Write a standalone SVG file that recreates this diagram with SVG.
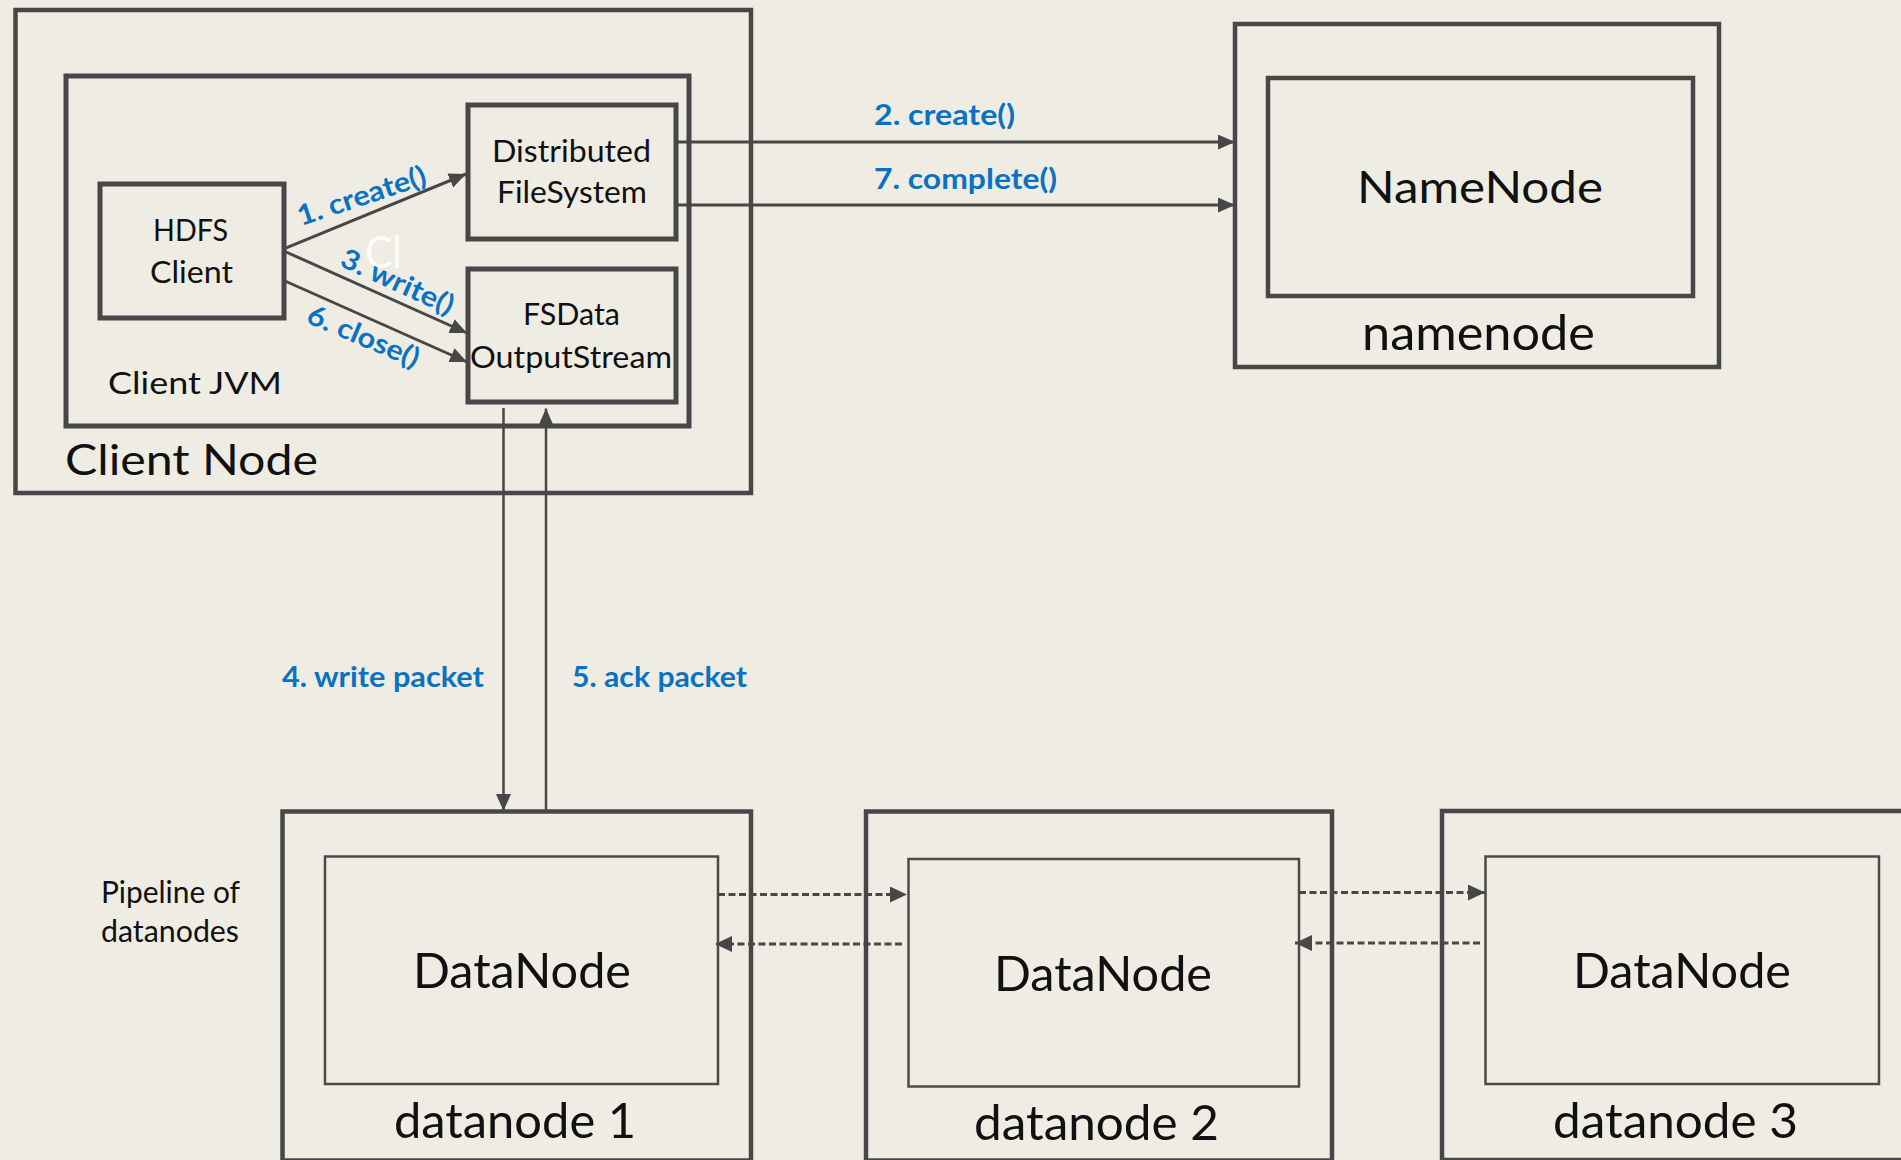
<svg xmlns="http://www.w3.org/2000/svg" width="1901" height="1160" viewBox="0 0 1901 1160">
<defs>
<style>
.bg{fill:#EEECE3}
.box{fill:none;stroke:#474747;stroke-width:4.5}
.box5{fill:none;stroke:#474747;stroke-width:5}
.thin{fill:none;stroke:#4a4a4a;stroke-width:2.5}
.t{font-family:Lato,"Open Sans","Liberation Sans",sans-serif;fill:#111}
.lbl{font-family:Lato,"Open Sans","Liberation Sans",sans-serif;font-weight:bold;fill:#0A72C2;font-size:28px}
.line{stroke:#474747;stroke-width:3;fill:none}
.vline{stroke:#474747;stroke-width:2.5;fill:none}
.dash{stroke:#474747;stroke-width:3;fill:none;stroke-dasharray:7 3.5}
</style>
<marker id="ah" markerUnits="userSpaceOnUse" markerWidth="18" markerHeight="16" refX="17" refY="7.5" orient="auto"><path d="M0,0 L17,7.5 L0,15 z" fill="#474747"/></marker>
<marker id="ahd" markerUnits="userSpaceOnUse" markerWidth="18" markerHeight="17" refX="17" refY="8" orient="auto"><path d="M0,0 L17,8 L0,16 z" fill="#474747"/></marker>
</defs>
<rect class="bg" x="0" y="0" width="1901" height="1160"/>

<g id="client-node">
<rect class="box" x="15.5" y="10" width="735.5" height="483"/>
<text class="t" x="65" y="475" font-size="43" textLength="253" lengthAdjust="spacingAndGlyphs">Client Node</text>
</g>
<g id="client-jvm">
<rect class="box5" x="66" y="76" width="623" height="350"/>
<text class="t" x="108" y="394" font-size="31" textLength="174" lengthAdjust="spacingAndGlyphs">Client JVM</text>
</g>
<g id="hdfs-client">
<rect class="box5" x="100" y="184" width="184" height="134"/>
<text class="t" x="153" y="241" font-size="30" textLength="75" lengthAdjust="spacingAndGlyphs">HDFS</text>
<text class="t" x="150" y="283" font-size="30" textLength="83" lengthAdjust="spacingAndGlyphs">Client</text>
</g>
<g id="distributed-filesystem">
<rect class="box5" x="468" y="105" width="208" height="134"/>
<text class="t" x="492" y="162" font-size="30" textLength="159" lengthAdjust="spacingAndGlyphs">Distributed</text>
<text class="t" x="497" y="203" font-size="30" textLength="150" lengthAdjust="spacingAndGlyphs">FileSystem</text>
</g>
<g id="fsdata-outputstream">
<rect class="box5" x="468" y="269" width="208" height="133"/>
<text class="t" x="523" y="325" font-size="30" textLength="97" lengthAdjust="spacingAndGlyphs">FSData</text>
<text class="t" x="470" y="368" font-size="30" textLength="202" lengthAdjust="spacingAndGlyphs">OutputStream</text>
</g>
<text x="365" y="268" font-family="Lato,'Open Sans',sans-serif" font-size="44" fill="#ffffff" fill-opacity="0.9" textLength="37" lengthAdjust="spacingAndGlyphs">Cl</text>

<g id="namenode">
<rect class="box" x="1235" y="24" width="484" height="343"/>
<rect class="box" x="1268" y="78" width="425" height="218"/>
<text class="t" x="1357" y="203" font-size="45" textLength="246" lengthAdjust="spacingAndGlyphs">NameNode</text>
<text class="t" x="1362" y="350" font-size="48" textLength="233" lengthAdjust="spacingAndGlyphs">namenode</text>
</g>

<g id="datanode1">
<rect class="box" x="282.5" y="811.5" width="468.5" height="349"/>
<rect class="thin" x="325" y="856.5" width="393" height="227.5"/>
<text class="t" x="413" y="988" font-size="48" textLength="218" lengthAdjust="spacingAndGlyphs">DataNode</text>
<text class="t" x="394" y="1138" font-size="48" textLength="242" lengthAdjust="spacingAndGlyphs">datanode 1</text>
</g>
<g id="datanode2">
<rect class="box" x="866" y="811.5" width="466" height="349"/>
<rect class="thin" x="908.5" y="859" width="390.5" height="227.5"/>
<text class="t" x="994" y="990.5" font-size="48" textLength="218" lengthAdjust="spacingAndGlyphs">DataNode</text>
<text class="t" x="974" y="1140" font-size="48" textLength="245" lengthAdjust="spacingAndGlyphs">datanode 2</text>
</g>
<g id="datanode3">
<rect class="box" x="1442" y="811" width="500" height="349"/>
<rect class="thin" x="1485.5" y="856.5" width="393.5" height="227.5"/>
<text class="t" x="1573" y="988" font-size="48" textLength="218" lengthAdjust="spacingAndGlyphs">DataNode</text>
<text class="t" x="1553" y="1138" font-size="48" textLength="245" lengthAdjust="spacingAndGlyphs">datanode 3</text>
</g>
<g id="pipeline-label">
<text class="t" x="101" y="903" font-size="30" textLength="139" lengthAdjust="spacingAndGlyphs">Pipeline of</text>
<text class="t" x="101" y="942" font-size="30" textLength="138" lengthAdjust="spacingAndGlyphs">datanodes</text>
</g>

<g id="connectors">
<line class="line" x1="285" y1="248.3" x2="466" y2="174" marker-end="url(#ah)"/>
<line class="line" x1="285" y1="251.5" x2="467" y2="333" marker-end="url(#ah)"/>
<line class="line" x1="285" y1="281" x2="467" y2="362" marker-end="url(#ah)"/>
<line class="line" x1="676" y1="142" x2="1235" y2="142" marker-end="url(#ah)"/>
<line class="line" x1="676" y1="205" x2="1235" y2="205" marker-end="url(#ah)"/>
<line class="vline" x1="503.5" y1="408" x2="503.5" y2="811" marker-end="url(#ah)"/>
<line class="vline" x1="546" y1="811" x2="546" y2="408.5" marker-end="url(#ah)"/>
<line class="dash" x1="718" y1="894.5" x2="907" y2="894.5" marker-end="url(#ahd)"/>
<line class="dash" x1="902" y1="944" x2="715" y2="944" marker-end="url(#ahd)"/>
<line class="dash" x1="1299" y1="892.5" x2="1485" y2="892.5" marker-end="url(#ahd)"/>
<line class="dash" x1="1480" y1="943" x2="1295" y2="943" marker-end="url(#ahd)"/>
<text class="lbl" x="301" y="226" transform="rotate(-18.3 301 226)" textLength="134" lengthAdjust="spacingAndGlyphs">1. create()</text>
<text class="lbl" x="338.5" y="265.5" transform="rotate(24.4 338.5 265.5)" textLength="121" lengthAdjust="spacingAndGlyphs">3. write()</text>
<text class="lbl" x="305" y="322" transform="rotate(23 305 322)" textLength="119" lengthAdjust="spacingAndGlyphs">6. close()</text>
<text class="lbl" x="874" y="125" textLength="141" lengthAdjust="spacingAndGlyphs">2. create()</text>
<text class="lbl" x="874" y="189" textLength="183" lengthAdjust="spacingAndGlyphs">7. complete()</text>
<text class="lbl" x="282" y="687" textLength="202" lengthAdjust="spacingAndGlyphs">4. write packet</text>
<text class="lbl" x="572" y="687" textLength="175" lengthAdjust="spacingAndGlyphs">5. ack packet</text>
</g>
</svg>
